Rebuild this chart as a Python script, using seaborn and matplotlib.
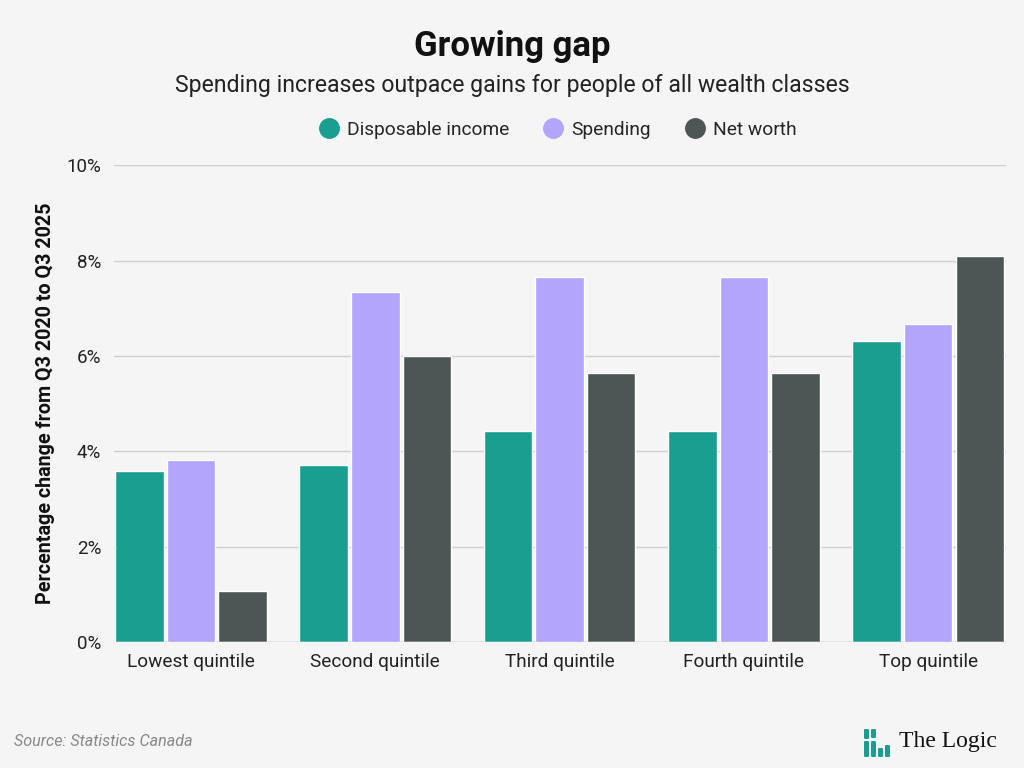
import matplotlib
matplotlib.use("Agg")
import matplotlib.pyplot as plt
import seaborn as sns
import pandas as pd
from matplotlib.lines import Line2D
from matplotlib.patches import FancyBboxPatch

categories = ["Lowest quintile", "Second quintile", "Third quintile", "Fourth quintile", "Top quintile"]
disposable_income = [3.58, 3.71, 4.42, 4.42, 6.31]
spending = [3.82, 7.34, 7.65, 7.65, 6.67]
net_worth = [1.07, 6.0, 5.64, 5.64, 8.09]
series_names = ["Disposable income", "Spending", "Net worth"]
colors = ["#1a9e8f", "#b3a4fc", "#4d5655"]
yticks = [0, 2, 4, 6, 8, 10]

rows = []
for name, vals in zip(series_names, [disposable_income, spending, net_worth]):
    for c, v in zip(categories, vals):
        rows.append({"category": c, "series": name, "value": v})
df = pd.DataFrame(rows)

sns.set_theme(style="white")
plt.rcParams["font.family"] = ["Roboto", "DejaVu Sans"]
BG = "#f5f5f5"

fig = plt.figure(figsize=(10.24, 7.68), dpi=100, facecolor=BG)
ax = fig.add_axes([0.111, 0.164, 0.871, 0.621], facecolor=BG)

sns.barplot(data=df, x="category", y="value", hue="series", order=categories,
            hue_order=series_names, palette=colors, width=0.84, gap=0.06,
            saturation=1, ax=ax, legend=False, zorder=3)

ax.set_ylim(0, 10)
ax.set_xlim(-0.42, 4.42)
ax.set_yticks(yticks)
ax.set_yticklabels([f"{t}%" for t in yticks], fontsize=13.5, color="#222222")
ax.tick_params(axis="x", labelsize=13.7, colors="#222222", length=0, pad=8)
ax.tick_params(axis="y", length=0, pad=9)
ax.yaxis.grid(True, color="#d0d0d0", linewidth=1, zorder=0)
ax.set_axisbelow(True)
for s in ax.spines.values():
    s.set_visible(False)
ax.axhline(0, color="#bbbbbb", linewidth=1, zorder=4)
ax.set_xlabel("")
ax.set_ylabel("Percentage change from Q3 2020 to Q3 2025", fontsize=14.2,
              fontweight="bold", color="#111111", labelpad=8)

fig.text(0.5, 0.94, "Growing gap", ha="center", va="center", fontsize=25,
         fontweight="bold", color="#111111")
fig.text(0.5, 0.889, "Spending increases outpace gains for people of all wealth classes",
         ha="center", va="center", fontsize=16.6, color="#222222")

handles = [Line2D([0], [0], marker="o", linestyle="", markersize=14,
                  markerfacecolor=c, markeredgecolor=c) for c in colors]
fig.legend(handles, series_names, loc="center", bbox_to_anchor=(0.543, 0.831),
           ncol=3, frameon=False, fontsize=13.8, handletextpad=0.25,
           columnspacing=1.6, handlelength=1.4)

fig.text(0.014, 0.034, "Source: Statistics Canada", ha="left", va="center",
         fontsize=11.6, style="italic", color="#888888")

# logo
teal = "#1a9e8f"
logo_ax = fig.add_axes([864 / 1024, 11 / 768, 26 / 1024, 28 / 768], facecolor="none")
logo_ax.set_xlim(0, 26)
logo_ax.set_ylim(0, 28)
logo_ax.axis("off")
cols = [(0, [(0, 16), (18, 10)]), (7, [(0, 16), (19, 9)]), (14, [(0, 9)]), (21, [(0, 12)])]
for x, segs in cols:
    for y0, h in segs:
        logo_ax.add_patch(FancyBboxPatch((x + 0.5, y0 + 0.5), 4, h - 1,
                                         boxstyle="round,pad=0.5,rounding_size=1.2",
                                         color=teal, linewidth=0))
fig.text(0.878, 0.034, "The Logic", ha="left", va="center", fontsize=17,
         family=["Liberation Serif", "DejaVu Serif"], color="#111111")

fig.savefig("out.png", dpi=100, facecolor=BG)
